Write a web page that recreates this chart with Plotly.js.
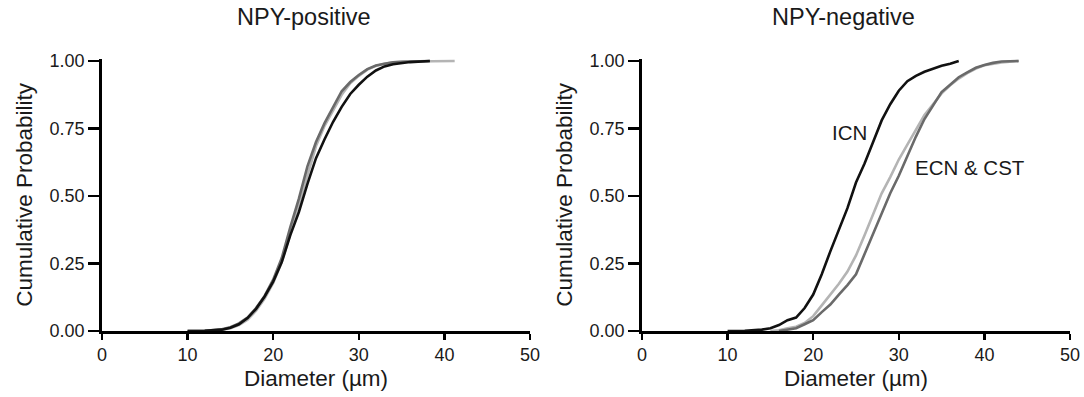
<!DOCTYPE html>
<html>
<head>
<meta charset="utf-8">
<script src="https://cdn.plot.ly/plotly-3.0.1.min.js"></script>
<style>html,body{margin:0;padding:0;background:#fff;}#chart{width:1084px;height:397px;}</style>
</head>
<body>
<div id="chart"></div>
<script>
// NPY-positive panel
const posBlackX = [10, 12, 14, 15, 16, 17, 18, 19, 20, 21, 22, 23, 24, 25, 26, 27, 28, 29, 30, 31, 32, 33, 34, 35, 36, 38.3];
const posBlackY = [0, 0.001, 0.005, 0.012, 0.025, 0.048, 0.082, 0.128, 0.183, 0.255, 0.355, 0.44, 0.545, 0.64, 0.71, 0.775, 0.83, 0.878, 0.912, 0.942, 0.965, 0.98, 0.988, 0.993, 0.996, 1.0];
const posDarkX = [10, 12, 14, 15, 16, 17, 18, 19, 20, 21, 22, 23, 24, 25, 26, 27, 28, 29, 30, 31, 32, 33, 34, 35, 37, 38.3];
const posDarkY = [0, 0.001, 0.006, 0.014, 0.028, 0.05, 0.085, 0.13, 0.19, 0.27, 0.385, 0.49, 0.61, 0.70, 0.77, 0.83, 0.888, 0.922, 0.948, 0.97, 0.983, 0.99, 0.995, 0.997, 0.999, 1.0];
const posLightX = [10, 12, 14, 15, 16, 17, 18, 19, 20, 21, 22, 23, 24, 25, 26, 27, 28, 29, 30, 31, 32, 33, 34, 36, 38, 41.2];
const posLightY = [0, 0, 0.004, 0.01, 0.022, 0.042, 0.075, 0.12, 0.178, 0.255, 0.36, 0.47, 0.585, 0.685, 0.76, 0.82, 0.875, 0.918, 0.945, 0.968, 0.982, 0.99, 0.995, 0.998, 0.999, 1.0];

// NPY-negative panel
const negIcnX = [10, 12, 14, 15, 16, 17, 18, 19, 20, 21, 22, 23, 24, 25, 26, 27, 28, 29, 30, 31, 32, 33, 34, 35, 36, 37];
const negIcnY = [0, 0.001, 0.005, 0.01, 0.022, 0.04, 0.05, 0.085, 0.135, 0.21, 0.295, 0.375, 0.455, 0.55, 0.62, 0.70, 0.78, 0.84, 0.89, 0.925, 0.945, 0.96, 0.972, 0.982, 0.99, 1.0];
const negLightX = [15, 16, 17, 18, 19, 20, 21, 22, 23, 24, 25, 26, 27, 28, 29, 30, 31, 32, 33, 34, 35, 36, 37, 38, 39, 40, 41, 42, 44];
const negLightY = [0, 0.003, 0.01, 0.016, 0.03, 0.055, 0.095, 0.135, 0.175, 0.22, 0.28, 0.355, 0.435, 0.51, 0.57, 0.635, 0.69, 0.745, 0.80, 0.84, 0.88, 0.91, 0.935, 0.955, 0.972, 0.984, 0.99, 0.995, 1.0];
const negDarkX = [16, 17, 18, 19, 20, 21, 22, 23, 24, 25, 26, 27, 28, 29, 30, 31, 32, 33, 34, 35, 36, 37, 38, 39, 40, 41, 42, 44];
const negDarkY = [0, 0.004, 0.01, 0.025, 0.04, 0.07, 0.098, 0.135, 0.17, 0.21, 0.285, 0.365, 0.44, 0.51, 0.575, 0.65, 0.72, 0.785, 0.835, 0.885, 0.912, 0.94, 0.958, 0.975, 0.985, 0.993, 0.998, 1.0];

const panelTitles = ["NPY-positive", "NPY-negative"];
const xTickVals = [0, 10, 20, 30, 40, 50];
const yTickVals = [0, 0.25, 0.5, 0.75, 1];
const yTickText = ["0.00", "0.25", "0.50", "0.75", "1.00"];
const labelIcn = "ICN";
const labelEcn = "ECN & CST";

const BLACK = "#111111", DARK = "#6a6a6a", LIGHT = "#b4b4b4";
const lw = 2.6;

function tr(x, y, color, xa, ya) {
  return {x: x, y: y, type: "scatter", mode: "lines", xaxis: xa, yaxis: ya,
          line: {color: color, width: lw}, hoverinfo: "skip", showlegend: false};
}

const data = [
  tr(posLightX, posLightY, LIGHT, "x", "y"),
  tr(posDarkX, posDarkY, DARK, "x", "y"),
  tr(posBlackX, posBlackY, BLACK, "x", "y"),
  tr(negLightX, negLightY, LIGHT, "x2", "y2"),
  tr(negDarkX, negDarkY, DARK, "x2", "y2"),
  tr(negIcnX, negIcnY, BLACK, "x2", "y2")
];

const font = "Liberation Sans, Arial, Helvetica, sans-serif";
const H = 397, W = 1084;
function xaxis(d) {
  return {domain: d, range: [0, 50], tickvals: xTickVals, ticks: "outside", ticklen: 6, tickwidth: 2.5,
          tickcolor: "#000", showline: true, linecolor: "#000", linewidth: 2.8, showgrid: false, zeroline: false,
          tickfont: {family: font, size: 18, color: "#1a1a1a"},
          title: {text: "Diameter (\u00b5m)", font: {family: font, size: 22.5, color: "#1a1a1a"}, standoff: 6},
          fixedrange: true};
}
function yaxis(anchor) {
  return {domain: [(H - 331) / H, (H - 331 + 270 * 1.008) / H], range: [0, 1.008], anchor: anchor,
          tickvals: yTickVals, ticktext: yTickText, ticks: "outside", ticklen: 11, tickwidth: 2.5,
          tickcolor: "#000", showline: true, linecolor: "#000", linewidth: 2.8, showgrid: false, zeroline: false,
          tickfont: {family: font, size: 18, color: "#1a1a1a"},
          title: {text: "Cumulative Probability", font: {family: font, size: 22.5, color: "#1a1a1a"}, standoff: 11},
          fixedrange: true};
}

const layout = {
  width: W, height: H,
  margin: {l: 0, r: 0, t: 0, b: 0},
  paper_bgcolor: "#fff", plot_bgcolor: "#fff",
  xaxis: Object.assign(xaxis([102 / W, 530 / W]), {anchor: "y"}),
  yaxis: yaxis("x"),
  xaxis2: Object.assign(xaxis([642 / W, 1070 / W]), {anchor: "y2"}),
  yaxis2: yaxis("x2"),
  annotations: [
    {text: panelTitles[0], xref: "paper", yref: "paper", x: 304 / W, y: (H - 17) / H, xanchor: "center", yanchor: "middle",
     showarrow: false, font: {family: font, size: 23.5, color: "#1a1a1a"}},
    {text: panelTitles[1], xref: "paper", yref: "paper", x: 843 / W, y: (H - 17) / H, xanchor: "center", yanchor: "middle",
     showarrow: false, font: {family: font, size: 23.5, color: "#1a1a1a"}},
    {text: labelIcn, xref: "x2", yref: "y2", x: 24.2, y: 0.735, xanchor: "center", yanchor: "middle",
     showarrow: false, font: {family: font, size: 20.5, color: "#1a1a1a"}},
    {text: labelEcn, xref: "x2", yref: "y2", x: 38.3, y: 0.605, xanchor: "center", yanchor: "middle",
     showarrow: false, font: {family: font, size: 20.5, color: "#1a1a1a"}}
  ]
};

Plotly.newPlot("chart", data, layout, {displayModeBar: false, staticPlot: true});
</script>
</body>
</html>
